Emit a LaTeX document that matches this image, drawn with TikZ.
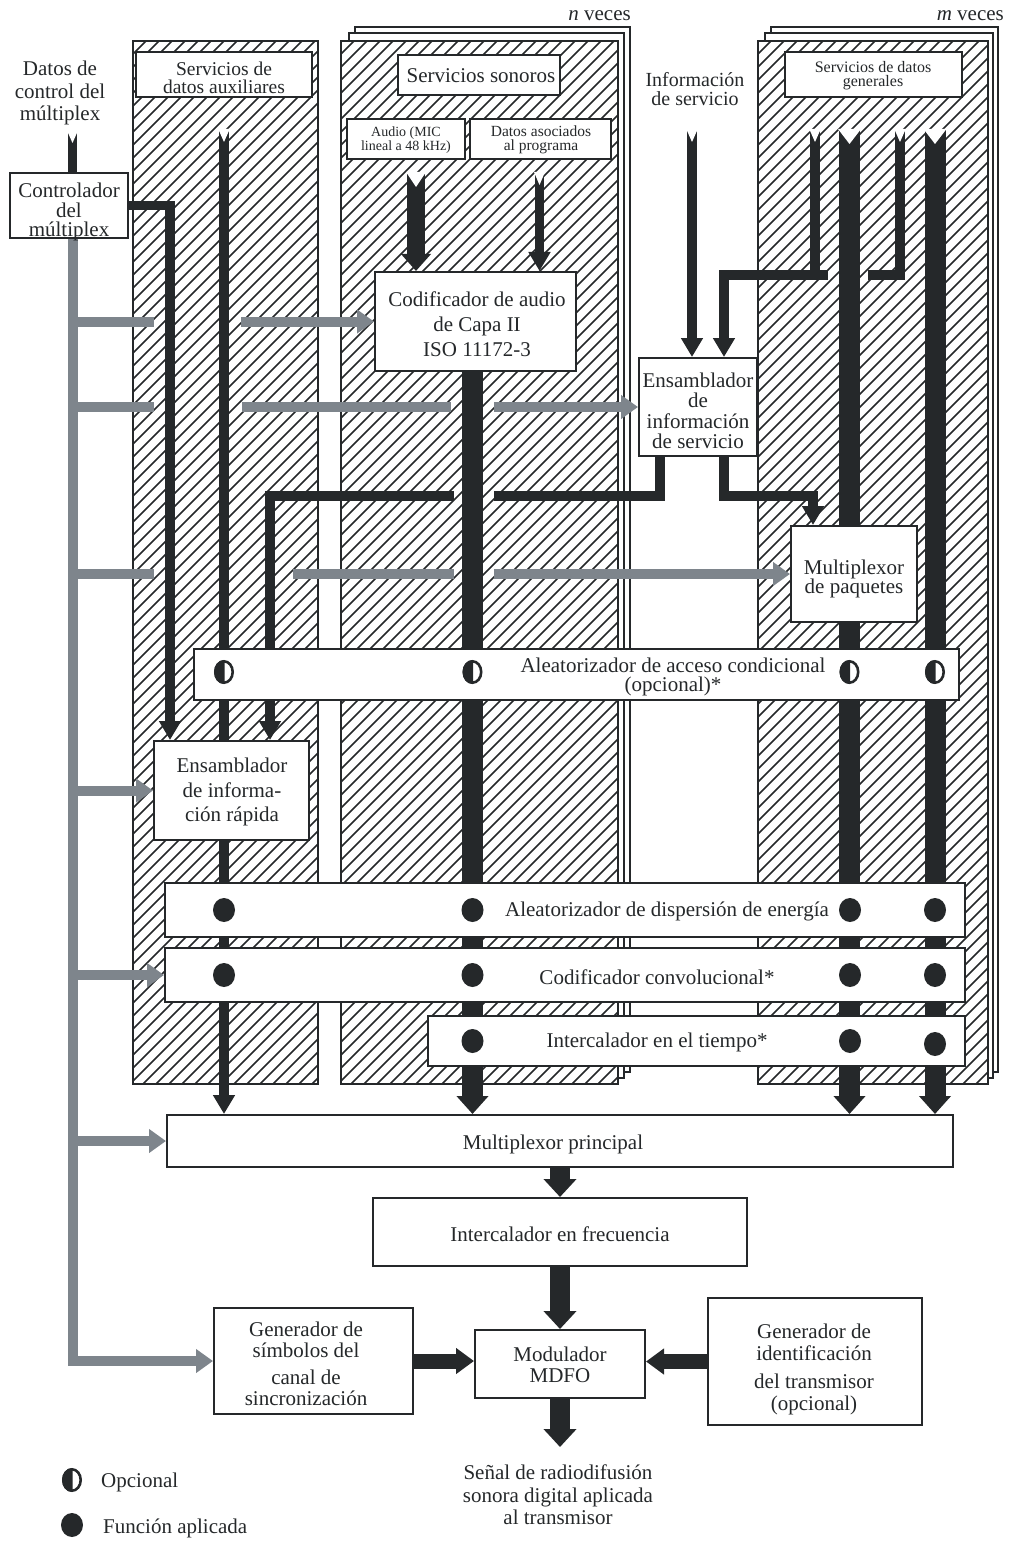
\documentclass[tikz,border=0pt]{standalone}
\usepackage{fontspec}
\setmainfont{Liberation Serif}
\usetikzlibrary{arrows.meta}
\definecolor{ink}{RGB}{37,40,42}
\definecolor{gry}{RGB}{126,133,140}
\pgfdeclarelayer{back}
\pgfdeclarelayer{lines}
\pgfsetlayers{back,lines,main}
\newcommand\fsz[2]{\fontsize{#1}{#2}\selectfont}
\newcommand\hatchrect[4]{%
  \begin{scope}
  \clip (#1,#2) rectangle (#3,#4);
  \pgfmathtruncatemacro\hH{#4-#2}%
  \pgfmathtruncatemacro\hS{#1-\hH}%
  \pgfmathtruncatemacro\nN{(#3-\hS)/13+1}%
  \foreach \i in {0,...,\nN} {\draw[hatchln] ({\hS+13*\i},#4) -- ++(\hH,-\hH);}
  \end{scope}}
\newcommand\notch[4]{\fill[white] ({#1-#3/2-1},{#2-1}) -- (#1,{#2+#4}) -- ({#1+#3/2+1},{#2-1}) -- cycle;}
\newcommand\bx[5]{\node[box,minimum width={(#4)-(#2)},minimum height={(#5)-(#3)}] (#1) at ({((#2)+(#4))/2},{((#3)+(#5))/2}) {};}
\newcommand\fullmk[2]{\fill[ink] (#1,#2) ellipse [x radius=11pt,y radius=12pt];}
\newcommand\halfmk[2]{%
  \fill[white] (#1,#2) ellipse [x radius=10pt,y radius=12pt];
  \begin{scope}\clip ({#1-13},{#2-14}) rectangle ({#1+0.5},{#2+14});
  \fill[ink] (#1,#2) ellipse [x radius=10pt,y radius=12pt];\end{scope}
  \draw[ink,line width=2.6pt] (#1,#2) ellipse [x radius=8.7pt,y radius=10.7pt];}
\tikzset{
  frame/.style={draw=ink,line width=2.2pt},
  box/.style={draw=ink,line width=2pt,fill=white,inner sep=0pt},
  txt/.style={inner sep=0pt,align=center,text=ink,font=\fsz{21}{22}},
  hatchln/.style={draw=ink,line width=1.7pt},
  thinln/.style={draw=ink,line width=9.5pt},
  thickln/.style={draw=ink,line width=20pt},
  grayln/.style={draw=gry,line width=10pt},
  thinarr/.style={thinln,-{Triangle[width=21pt,length=19pt]}},
  thickarr/.style={thickln,-{Triangle[width=31pt,length=18pt]}},
  grayarr/.style={grayln,-{Triangle[width=23pt,length=17pt]}},
  sidearr/.style={draw=ink,line width=15pt,-{Triangle[width=25pt,length=18pt]}},
}
\begin{document}
\begin{tikzpicture}[x=1pt,y=-1pt,line join=miter]
\useasboundingbox (0,0) rectangle (1009,1546);

% ---------- boxes ----------
\bx{ctrl}{10}{173}{128}{238}
\bx{auxl}{136}{52}{312}{97}
\bx{sono}{398}{55}{560}{95}
\bx{audio}{347}{119}{465}{159}
\bx{pad}{470}{119}{611}{159}
\bx{gen}{785}{52}{962}{97}
\bx{cod}{375}{272}{576}{371}
\bx{sia}{639}{358}{757}{456}
\bx{pmux}{791}{526}{917}{622}
\bx{ca}{194}{649}{959}{700}
\bx{fic}{154}{741}{309}{840}
\bx{disp}{165}{883}{965}{937}
\bx{conv}{165}{948}{965}{1002}
\bx{tint}{428}{1016}{965}{1066}
\bx{mmux}{167}{1115}{953}{1167}
\bx{fint}{373}{1198}{747}{1266}
\bx{mod}{475}{1330}{645}{1398}
\bx{sync}{214}{1308}{413}{1414}
\bx{idg}{708}{1298}{922}{1425}

% ---------- panels ----------
\begin{pgfonlayer}{back}
  \draw[frame,fill=white] (355,27) rectangle (630,1072);
  \draw[frame,fill=white] (349,33) rectangle (624,1078);
  \draw[frame,fill=white] (771,27) rectangle (998,1072);
  \draw[frame,fill=white] (765,33) rectangle (993,1078);
  \fill[white] (341,41) rectangle (618,1084);
  \fill[white] (758,41) rectangle (988,1084);
  \hatchrect{133}{41}{318}{1084}
  \hatchrect{341}{41}{618}{1084}
  \hatchrect{758}{41}{988}{1084}
  \draw[frame] (133,41) rectangle (318,1084);
  \draw[frame] (341,41) rectangle (618,1084);
  \draw[frame] (758,41) rectangle (988,1084);
\end{pgfonlayer}

% ---------- coordinates ----------
\coordinate (in1) at (72.5,131);
\coordinate (aux1) at (224,130);
\coordinate (au1) at (416,173);
\coordinate (pad1) at (539.5,173);
\coordinate (si1) at (692,130);
\coordinate (gd1) at (815,130);
\coordinate (gd2) at (849.5,130);
\coordinate (gd3) at (900,130);
\coordinate (gd4) at (935,130);
\coordinate (j1) at (815,275);
\coordinate (j1e) at (828,275);
\coordinate (j2) at (724,275);
\coordinate (j3) at (900,275);
\coordinate (j3e) at (868,275);
\coordinate (c1) at (170,206);
\coordinate (k1) at (660,496);
\coordinate (k1e) at (494,496);
\coordinate (k2s) at (454,496);
\coordinate (k2) at (270,496);
\coordinate (k3) at (724,496);
\coordinate (k4) at (813,496);
\coordinate (xa) at (472.5,0);
\coordinate (outp) at (560,1447);
\coordinate (gtop) at (72.5,238);
\coordinate (gL) at (154,0);
\coordinate (g1) at (241,0);
\coordinate (g2) at (242,0);
\coordinate (g3) at (293,0);
\coordinate (gA) at (451,0);
\coordinate (gA2) at (454,0);
\coordinate (gB) at (494,0);

% ---------- connectors ----------
\begin{pgfonlayer}{lines}
  % gray control lines
  \draw[grayarr] (gtop) |- (sync.west);
  \draw[grayln] (gtop |- cod.west) -- (gL |- cod.west);
  \draw[grayarr] (g1 |- cod.west) -- (cod.west);
  \draw[grayln] (gtop |- sia.west) -- (gL |- sia.west);
  \draw[grayln] (g2 |- sia.west) -- (gA |- sia.west);
  \draw[grayarr] (gB |- sia.west) -- (sia.west);
  \draw[grayln] (gtop |- pmux.west) -- (gL |- pmux.west);
  \draw[grayln] (g3 |- pmux.west) -- (gA2 |- pmux.west);
  \draw[grayarr] (gB |- pmux.west) -- (pmux.west);
  \draw[grayarr] (gtop |- fic.west) -- (fic.west);
  \draw[grayarr] (gtop |- conv.west) -- (conv.west);
  \draw[grayarr] (gtop |- mmux.west) -- (mmux.west);
  % thin black
  \draw[thinln] (in1) -- (in1 |- ctrl.north);
  \draw[thinarr] (ctrl.east) -- (ctrl.east -| c1) -- (c1 |- fic.north);
  \draw[thinarr] (aux1) -- (aux1 |- mmux.north);
  \draw[thinarr,line width=9pt] (pad1) -- (pad1 |- cod.north);
  \draw[thinarr] (si1) -- (si1 |- sia.north);
  \draw[thinln] (gd1) -- (j1);
  \draw[thinarr] (j1e) -- (j2) -- (j2 |- sia.north);
  \draw[thinln] (gd3) -- (j3) -- (j3e);
  \draw[thinln] (sia.south -| k1) -- (k1) -- (k1e);
  \draw[thinarr] (k2s) -- (k2) -- (k2 |- fic.north);
  \draw[thinarr] (sia.south -| k3) -- (k3) -- (k4) -- (k4 |- pmux.north);
  % thick black
  \draw[thickarr,line width=18pt,-{Triangle[width=29pt,length=17pt]}] (au1) -- (au1 |- cod.north);
  \draw[thickarr,line width=21pt] (cod.south -| xa) -- (mmux.north -| xa);
  \draw[thickarr,line width=21pt] (gd2) -- (gd2 |- mmux.north);
  \draw[thickarr,line width=21pt] (gd4) -- (gd4 |- mmux.north);
  \draw[thickarr,-{Triangle[width=32pt,length=18pt]}] (mmux.south) -- (fint.north);
  \draw[thickarr,-{Triangle[width=32pt,length=18pt]}] (fint.south) -- (mod.north);
  \draw[thickarr,-{Triangle[width=32pt,length=18pt]}] (mod.south) -- (outp);
  \draw[sidearr] (sync.east) -- (sync.east -| mod.west);
  \draw[sidearr] (idg.west) -- (idg.west -| mod.east);
  % notched tails
  \notch{72.5}{131}{9.5}{12}
  \notch{224}{130}{9.5}{12}
  \notch{416}{173}{18}{14}
  \notch{539.5}{173}{9}{12}
  \notch{692}{130}{9.5}{12}
  \notch{815}{130}{9.5}{12}
  \notch{849.5}{130}{21}{14}
  \notch{900}{130}{9.5}{12}
  \notch{935}{130}{21}{14}
\end{pgfonlayer}

% ---------- markers ----------
\halfmk{224}{672}\halfmk{472.5}{672}\halfmk{849.5}{672}\halfmk{935}{672}
\fullmk{224}{910}\fullmk{472.5}{910}\fullmk{850}{910}\fullmk{935}{910}
\fullmk{224}{975}\fullmk{472.5}{975}\fullmk{850}{975}\fullmk{935}{975}
\fullmk{472.5}{1041}\fullmk{850}{1041}\fullmk{935}{1044}
\halfmk{72}{1480}
\fullmk{72}{1525}

% ---------- texts ----------
\node[txt,anchor=east] (tn) at (631,16) {\textit{n} veces};
\node[txt,anchor=east] (tm) at (1004,16) {\textit{m} veces};
\node[txt,font=\fsz{21}{22.5}] (tdc) at (60,93) {Datos de\\control del\\múltiplex};
\node[txt,font=\fsz{21}{19.5}] (tctrl) at (69,212) {Controlador\\del\\múltiplex};
\node[txt,font=\fsz{19.5}{17.5}] (tauxl) at (224,78) {Servicios de\\datos auxiliares};
\node[txt] (tsono) at (481,76) {Servicios sonoros};
\node[txt,font=\fsz{14}{12.5}] (taudio) at (406,140) {Audio (MIC\\lineal a 48 kHz)};
\node[txt,font=\fsz{15.5}{13.5}] (tpad) at (541,140) {Datos asociados\\al programa};
\node[txt,font=\fsz{16}{14}] (tgen) at (873,76) {Servicios de datos\\generales};
\node[txt,font=\fsz{20}{18.5}] (tinfo) at (695,89) {Información\\de servicio};
\node[txt,font=\fsz{21}{25}] (tcod) at (477,324) {Codificador de audio\\de Capa II\\ISO 11172-3};
\node[txt,font=\fsz{21}{20.5}] (tsia) at (698,411) {Ensamblador\\de\\información\\de servicio};
\node[txt,font=\fsz{21}{19.5}] (tpmux) at (854,579) {Multiplexor\\de paquetes};
\node[txt,font=\fsz{21}{19}] (tca) at (673,677) {Aleatorizador de acceso condicional\\(opcional)*};
\node[txt,font=\fsz{21}{24.5}] (tfic) at (232,792) {Ensamblador\\de informa-\\ción rápida};
\node[txt] (tdisp) at (667,911) {Aleatorizador de dispersión de energía};
\node[txt] (tconv) at (657,977) {Codificador convolucional*};
\node[txt] (ttint) at (657,1042) {Intercalador en el tiempo*};
\node[txt] (tmmux) at (553,1144) {Multiplexor principal};
\node[txt] (tfint) at (560,1234) {Intercalador en frecuencia};
\node[txt,font=\fsz{21}{21}] (tmod) at (560,1365) {Modulador\\MDFO};
\node[txt,font=\fsz{21}{21}] (tsync) at (306,1364) {Generador de\\símbolos del\\[6pt]canal de\\sincronización};
\node[txt,font=\fsz{21}{22}] (tidg) at (814,1369) {Generador de\\identificación\\[6pt]del transmisor\\(opcional)};
\node[txt,font=\fsz{21}{22.5}] (tout) at (558,1495) {Señal de radiodifusión\\sonora digital aplicada\\al transmisor};
\node[txt,anchor=west] (tl1) at (101,1482) {Opcional};
\node[txt,anchor=west] (tl2) at (103,1528) {Función aplicada};
\end{tikzpicture}
\end{document}
